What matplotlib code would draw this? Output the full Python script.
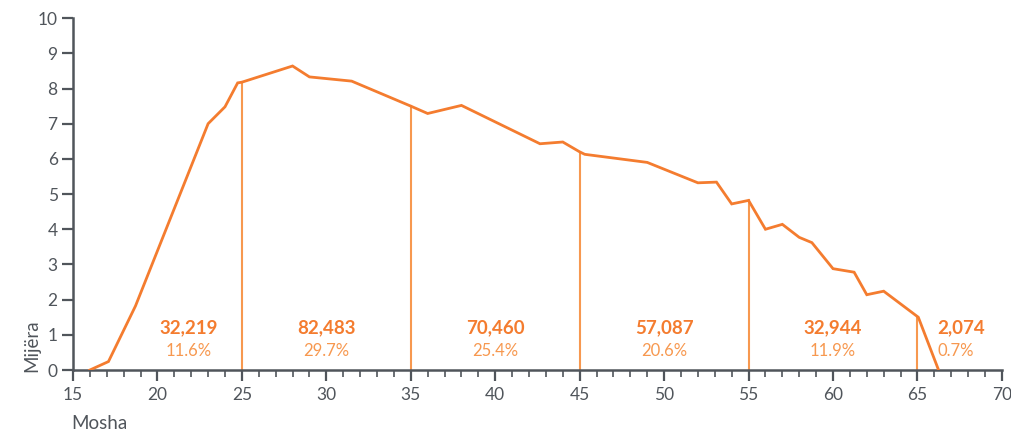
from matplotlib import pyplot as plt
import numpy as np

# age curve (thousands of people per year of age)
mosha = [16.0, 17.1, 18.7, 23.0, 24.0, 24.75, 25.0, 28.0, 29.0, 31.5, 35.0, 36.0, 38.0,
         42.65, 44.0, 45.0, 45.3, 49.0, 52.0, 53.1, 54.0, 55.0, 56.0, 57.0, 58.0, 58.75,
         60.0, 61.25, 62.0, 63.0, 65.05, 66.25]
mijera = [0.0, 0.24, 1.82, 7.0, 7.48, 8.16, 8.18, 8.64, 8.33, 8.21, 7.5, 7.29, 7.52,
          6.43, 6.48, 6.2, 6.13, 5.9, 5.32, 5.34, 4.72, 4.82, 4.0, 4.14, 3.77, 3.62,
          2.88, 2.78, 2.14, 2.24, 1.5, 0.0]

kufijte = [25, 35, 45, 55, 65]
numri = ['32,219', '82,483', '70,460', '57,087', '32,944', '2,074']
perqindja = ['11.6%', '29.7%', '25.4%', '20.6%', '11.9%', '0.7%']
pos_tekst = [21.85, 30.0, 40.0, 50.0, 60.0, 66.2]

portokalli = '#F47C2F'
portokalli_celet = '#F7984F'
gri = '#50555b'

plt.rcParams['font.family'] = ['Lato', 'DejaVu Sans']

fig = plt.figure(figsize=(10.11, 4.32), dpi=100)
ax = fig.add_axes([0.0722, 0.1435, 0.9188, 0.8145])

ax.plot(mosha, mijera, color=portokalli, lw=2.0, solid_joinstyle='miter', zorder=3)

for k in kufijte:
    h = np.interp(k, mosha, mijera)
    ax.plot([k, k], [0, h], color=portokalli_celet, lw=1.5, zorder=2)

for i in range(len(numri)):
    ha = 'left' if i == len(numri) - 1 else 'center'
    ax.text(pos_tekst[i], 1.2, numri[i], color=portokalli, fontsize=13.5,
            fontweight='bold', ha=ha, va='center')
    ax.text(pos_tekst[i], 0.55, perqindja[i], color=portokalli_celet, fontsize=12,
            ha=ha, va='center')

ax.set_xlim(15, 70)
ax.set_ylim(0, 10)
ax.set_xticks(range(15, 71, 5))
ax.set_xticks(range(15, 71), minor=True)
ax.set_yticks(range(0, 11))

for s in ['top', 'right']:
    ax.spines[s].set_visible(False)
for s in ['left', 'bottom']:
    ax.spines[s].set_color(gri)
    ax.spines[s].set_linewidth(1.8)

ax.tick_params(axis='both', which='major', colors=gri, labelcolor=gri, width=1.6,
               length=8, labelsize=12.5, direction='out')
ax.tick_params(axis='x', which='minor', colors=gri, width=1.2, length=5)
ax.tick_params(axis='x', which='major', pad=4)
ax.tick_params(axis='y', which='major', pad=3)

fig.text(0.031, 0.2, 'Mijëra', rotation=90, color=gri, fontsize=13.5,
         ha='center', va='center')
fig.text(0.0705, 0.006, 'Mosha', color=gri, fontsize=13.5, ha='left', va='baseline')

fig.savefig('out.png', dpi=100)
